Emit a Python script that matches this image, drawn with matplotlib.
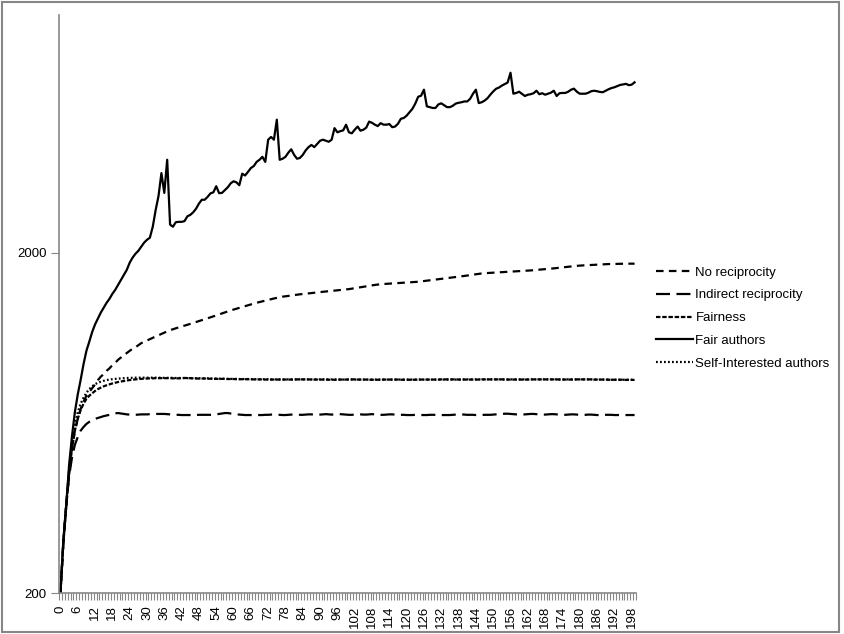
import matplotlib
matplotlib.use("Agg")
import matplotlib.pyplot as plt
from matplotlib.patches import Rectangle

plt.rcParams['font.family'] = ['Liberation Sans', 'DejaVu Sans']

# generations 0..199
steps = list(range(200))

no_reciprocity = [
    200, 280, 360, 450, 530, 600, 650, 695, 730, 760,
    780, 800, 820, 845, 865, 880, 900, 915, 935, 950,
    970, 985, 1000, 1015, 1030, 1045, 1055, 1070, 1085, 1095,
    1105, 1115, 1125, 1135, 1145, 1155, 1165, 1175, 1185, 1192,
    1200, 1207, 1214, 1221, 1228, 1236, 1244, 1252, 1260, 1268,
    1276, 1284, 1292, 1300, 1309, 1318, 1327, 1336, 1345, 1354,
    1362, 1370, 1378, 1386, 1394, 1402, 1410, 1418, 1426, 1433,
    1440, 1447, 1454, 1461, 1468, 1474, 1480, 1486, 1490, 1494,
    1498, 1502, 1506, 1510, 1513, 1516, 1520, 1523, 1526, 1530,
    1533, 1536, 1540, 1543, 1546, 1549, 1552, 1555, 1558, 1561,
    1564, 1569, 1574, 1579, 1584, 1589, 1594, 1599, 1604, 1609,
    1613, 1617, 1619, 1621, 1623, 1625, 1627, 1629, 1631, 1633,
    1635, 1637, 1639, 1641, 1644, 1648, 1652, 1656, 1660, 1664,
    1668, 1672, 1676, 1680, 1684, 1688, 1692, 1696, 1700, 1705,
    1710, 1715, 1720, 1725, 1730, 1735, 1739, 1742, 1744, 1746,
    1748, 1750, 1752, 1754, 1756, 1758, 1760, 1762, 1764, 1766,
    1768, 1770, 1772, 1775, 1778, 1781, 1784, 1787, 1790, 1793,
    1796, 1800, 1804, 1808, 1812, 1816, 1820, 1824, 1828, 1831,
    1834, 1836, 1838, 1840, 1842, 1844, 1846, 1848, 1850, 1852,
    1853, 1854, 1855, 1856, 1857, 1857, 1858, 1858, 1858, 1858,
]

indirect_reciprocity = [
    200, 280, 360, 440, 500, 545, 575, 600, 615, 628,
    637, 644, 650, 654, 658, 662, 665, 668, 672, 675,
    676, 674, 672, 670, 669, 668, 668, 669, 670, 670,
    670, 671, 671, 672, 672, 672, 672, 671, 670, 669,
    668, 668, 667, 667, 667, 667, 667, 667, 668, 668,
    668, 668, 668, 669, 670, 672, 674, 676, 676, 674,
    672, 670, 669, 668, 667, 667, 667, 667, 667, 667,
    667, 668, 668, 669, 669, 668, 668, 667, 667, 668,
    669, 670, 669, 668, 668, 669, 670, 670, 669, 668,
    669, 670, 671, 670, 669, 670, 671, 671, 670, 669,
    668, 668, 669, 670, 670, 669, 669, 670, 671, 670,
    669, 668, 668, 669, 670, 670, 669, 668, 668, 668,
    667, 667, 667, 668, 668, 667, 667, 667, 668, 668,
    668, 668, 667, 667, 667, 667, 668, 669, 670, 670,
    669, 668, 668, 668, 667, 667, 667, 668, 668, 668,
    669, 670, 671, 672, 673, 673, 672, 671, 670, 669,
    669, 670, 671, 672, 672, 671, 670, 669, 669, 670,
    671, 671, 670, 669, 668, 668, 669, 670, 670, 669,
    668, 668, 668, 669, 669, 668, 667, 667, 667, 668,
    668, 668, 667, 667, 667, 667, 667, 667, 667, 667,
]

fairness = [
    200, 280, 360, 450, 530, 600, 650, 690, 720, 744,
    760, 773, 785, 795, 803, 810, 816, 821, 826, 830,
    834, 837, 840, 843, 845, 847, 849, 851, 852, 853,
    854, 855, 855, 856, 856, 856, 856, 856, 856, 855,
    855, 855, 856, 857, 857, 856, 855, 854, 854, 854,
    854, 853, 853, 852, 852, 852, 852, 852, 851, 851,
    851, 850, 850, 850, 850, 850, 850, 849, 849, 849,
    849, 848, 848, 848, 848, 848, 848, 848, 848, 848,
    848, 848, 849, 849, 849, 849, 849, 848, 848, 848,
    848, 848, 848, 847, 847, 847, 848, 848, 848, 848,
    849, 849, 849, 848, 848, 848, 848, 847, 847, 847,
    847, 847, 848, 848, 848, 848, 848, 848, 847, 847,
    847, 847, 847, 847, 848, 848, 848, 848, 848, 848,
    848, 848, 849, 849, 849, 849, 849, 849, 848, 848,
    848, 848, 848, 848, 848, 848, 849, 849, 849, 849,
    849, 849, 849, 849, 848, 848, 848, 848, 848, 848,
    848, 848, 848, 849, 849, 849, 849, 849, 849, 849,
    849, 849, 849, 848, 848, 848, 848, 848, 848, 849,
    849, 849, 849, 849, 849, 848, 848, 848, 848, 848,
    847, 847, 847, 847, 847, 847, 846, 846, 846, 846,
]

fair_authors = [
    200, 286, 362, 476, 578, 680, 767, 846, 941, 1030,
    1096, 1170, 1232, 1283, 1335, 1380, 1426, 1465, 1515, 1557,
    1610, 1666, 1722, 1782, 1870, 1935, 1987, 2027, 2083, 2142,
    2184, 2215, 2386, 2670, 2940, 3430, 3000, 3754, 2420, 2386,
    2461, 2466, 2466, 2478, 2560, 2585, 2630, 2695, 2790, 2864,
    2864, 2920, 2990, 3011, 3138, 2994, 3000, 3058, 3116, 3200,
    3245, 3222, 3160, 3416, 3375, 3457, 3549, 3596, 3700, 3754,
    3830, 3700, 4300, 4380, 4300, 4924, 3754, 3780, 3830, 3940,
    4030, 3880, 3780, 3800, 3880, 4000, 4090, 4150, 4090, 4180,
    4270, 4300, 4270, 4240, 4300, 4650, 4520, 4555, 4580, 4760,
    4520, 4490, 4600, 4700, 4570, 4600, 4665, 4860, 4820, 4760,
    4715, 4810, 4760, 4760, 4780, 4680, 4700, 4790, 4955, 4980,
    5060, 5180, 5300, 5490, 5750, 5790, 6032, 5390, 5360, 5330,
    5330, 5460, 5500, 5430, 5360, 5360, 5410, 5490, 5520, 5540,
    5570, 5570, 5670, 5870, 6032, 5510, 5540, 5600, 5690, 5830,
    5960, 6070, 6120, 6200, 6265, 6330, 6766, 5870, 5900, 5950,
    5860, 5780, 5830, 5850, 5890, 5990, 5850, 5890, 5830, 5870,
    5910, 5990, 5780, 5890, 5900, 5900, 5950, 6032, 6074, 5950,
    5870, 5870, 5870, 5910, 5970, 5990, 5970, 5940, 5930, 5990,
    6050, 6100, 6130, 6180, 6230, 6250, 6275, 6220, 6240, 6340,
]

self_interested = [
    200, 280, 365, 460, 550, 620, 680, 720, 750, 775,
    795, 810, 822, 830, 836, 841, 845, 848, 850, 852,
    853, 855, 856, 857, 858, 858, 859, 859, 859, 859,
    859, 859, 859, 859, 859, 858, 858, 858, 858, 858,
    857, 857, 857, 857, 856, 856, 856, 856, 855, 855,
    855, 855, 854, 854, 854, 853, 853, 853, 852, 852,
    852, 852, 851, 851, 851, 851, 850, 850, 850, 850,
    850, 850, 850, 849, 849, 849, 849, 849, 849, 849,
    849, 849, 849, 849, 849, 849, 849, 849, 849, 849,
    849, 849, 849, 849, 849, 848, 848, 848, 848, 848,
    848, 848, 848, 848, 848, 848, 848, 848, 848, 848,
    848, 848, 848, 848, 848, 848, 848, 848, 848, 848,
    848, 848, 848, 848, 848, 848, 848, 848, 848, 848,
    848, 848, 848, 848, 848, 848, 848, 848, 848, 848,
    849, 849, 849, 849, 849, 849, 849, 849, 849, 849,
    849, 849, 849, 849, 849, 849, 849, 849, 849, 849,
    849, 849, 849, 849, 849, 849, 849, 849, 849, 849,
    849, 849, 849, 849, 849, 849, 849, 849, 849, 849,
    849, 849, 849, 849, 849, 848, 848, 848, 848, 848,
    848, 847, 847, 847, 847, 847, 847, 847, 847, 847,
]

grey = '#868686'

fig = plt.figure(figsize=(8.45, 6.34), dpi=100)
fig.patches.append(Rectangle((2 / 845, 2 / 634), 837 / 845, 630 / 634,
                             transform=fig.transFigure, fill=False,
                             edgecolor=grey, linewidth=1.5))
ax = fig.add_axes([59 / 845, 1 - 593 / 634, 577 / 845, 578 / 634])

lw = 1.6
ax.plot(steps, no_reciprocity, color='black', lw=lw, ls=(0, (3.4, 2.4)),
        label='No reciprocity')
ax.plot(steps, indirect_reciprocity, color='black', lw=lw, ls=(0, (6.3, 2.9)),
        label='Indirect reciprocity')
ax.plot(steps, fairness, color='black', lw=lw, ls=(0, (2.0, 0.8)),
        label='Fairness')
ax.plot(steps, fair_authors, color='black', lw=lw, ls='-',
        label='Fair authors')
ax.plot(steps, self_interested, color='black', lw=lw, ls=(0, (0.8, 1.0)),
        label='Self-Interested authors')

ax.set_yscale('log')
ax.set_ylim(200, 10000)
ax.set_yticks([200, 2000])
ax.set_yticklabels(['200', '2000'])
ax.yaxis.set_minor_locator(matplotlib.ticker.NullLocator())

ax.set_xlim(-0.5, 199.5)
ax.set_xticks(steps[::6])
ax.set_xticklabels([str(s) for s in steps[::6]], rotation=90)
ax.set_xticks([s - 0.5 for s in steps] + [199.5], minor=True)

for side in ['top', 'right']:
    ax.spines[side].set_visible(False)
for side in ['left', 'bottom']:
    ax.spines[side].set_color(grey)
    ax.spines[side].set_linewidth(1.2)

ax.tick_params(axis='y', which='major', length=6, color=grey, labelsize=9.5, pad=3)
ax.tick_params(axis='x', which='major', length=0, labelsize=9.5, pad=9)
ax.tick_params(axis='x', which='minor', length=5, color=grey, width=0.8)

ax.legend(loc='center left', bbox_to_anchor=(644 / 845, 1 - 318 / 634),
          bbox_transform=fig.transFigure, frameon=False, fontsize=9.5,
          handlelength=2.8, handletextpad=0.2, labelspacing=0.8)

fig.savefig('out.png', dpi=100)
